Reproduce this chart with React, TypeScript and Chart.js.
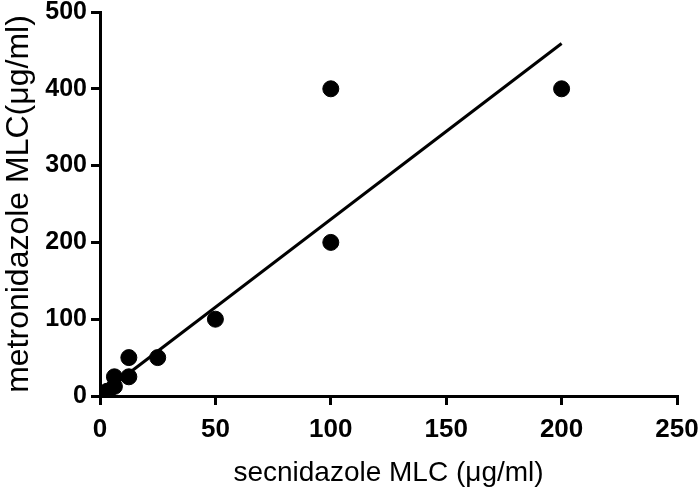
import React, { useEffect, useRef } from "react";
import { Chart, registerables } from "chart.js";

Chart.register(...registerables);

const secnidazole = [200, 100, 100, 50, 25, 12.5, 12.5, 6.25, 6.25, 3.125, 3.125, 1.56, 0.78, 0.39];
const metronidazole = [400, 400, 200, 100, 50, 50, 25, 25, 12.5, 6.25, 3.125, 3.125, 1.56, 0.78];
const fitX = [0.8, 200];
const fitY = [3, 459];
const xTicks = [0, 50, 100, 150, 200, 250];
const yTicks = [0, 100, 200, 300, 400, 500];

export default function App() {
  const ref = useRef<HTMLCanvasElement>(null);
  useEffect(() => {
    document.body.style.margin = "0";
    const ctx = ref.current!;
    const font = "'Liberation Sans', Arial, Helvetica, sans-serif";
    const chart = new Chart(ctx, {
      type: "scatter",
      data: {
        datasets: [
          {
            type: "line",
            data: fitX.map((x, i) => ({ x, y: fitY[i] })),
            borderColor: "#000",
            borderWidth: 3,
            pointRadius: 0,
            showLine: true,
            fill: false,
          },
          {
            data: secnidazole.map((x, i) => ({ x, y: metronidazole[i] })),
            backgroundColor: "#000",
            borderColor: "#000",
            pointRadius: 8,
            pointHoverRadius: 8,
          },
        ],
      },
      options: {
        animation: false,
        responsive: false,
        events: [],
        layout: { padding: { top: 0, right: 23, left: 0, bottom: 0 } },
        plugins: { legend: { display: false }, tooltip: { enabled: false } },
        scales: {
          x: {
            type: "linear",
            min: 0,
            max: 250,
            afterBuildTicks: (s: any) => { s.ticks = xTicks.map((v) => ({ value: v })); },
            afterFit: (s: any) => { s.height = 99; s.paddingRight = 23; },
            border: { color: "#000", width: 3 },
            grid: { drawOnChartArea: false, color: "#000", lineWidth: 3, tickLength: 9 },
            ticks: { color: "#000", font: { family: font, size: 26, weight: "bold" }, padding: 9, maxRotation: 0 },
            title: { display: true, text: "secnidazole MLC (μg/ml)", color: "#000", font: { family: font, size: 28 }, padding: { top: 8, bottom: 5 } },
          },
          y: {
            type: "linear",
            min: 0,
            max: 500,
            afterBuildTicks: (s: any) => { s.ticks = yTicks.map((v) => ({ value: v })); },
            afterFit: (s: any) => { s.width = 100; s.paddingTop = 12; },
            border: { color: "#000", width: 3 },
            grid: { drawOnChartArea: false, color: "#000", lineWidth: 3, tickLength: 9 },
            ticks: { color: "#000", font: { family: font, size: 25, weight: "bold" }, padding: 4 },
            title: { display: true, text: "metronidazole MLC(μg/ml)", color: "#000", font: { family: font, size: 32 }, padding: { top: 0, bottom: 0 } },
          },
        },
      },
    } as any);
    return () => chart.destroy();
  }, []);
  return (
    <div style={{ width: 700, height: 495, background: "#fff" }}>
      <canvas ref={ref} width={700} height={495} />
    </div>
  );
}
